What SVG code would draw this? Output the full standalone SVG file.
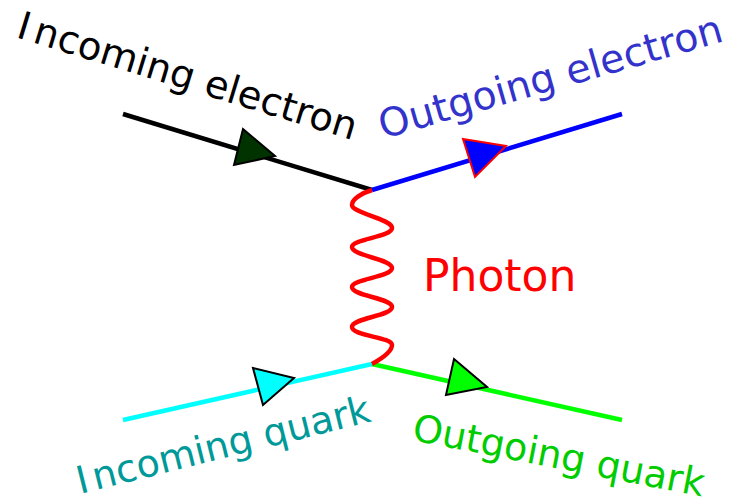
<svg xmlns="http://www.w3.org/2000/svg" width="732" height="498" viewBox="0 0 732 498">
<style>
.lbl{font-family:"DejaVu Sans",Verdana,sans-serif;font-size:38px}
.ln{fill:none;stroke-width:4.5;stroke-linecap:butt}
.tri{stroke-width:2;stroke-linejoin:miter}
</style>
<rect width="732" height="498" fill="#fff"/>
<g id="connectors">
<line class="ln" x1="123" y1="114" x2="372" y2="190" stroke="#000"/>
<line class="ln" x1="372" y1="190" x2="622" y2="114" stroke="#0000ff"/>
<line class="ln" x1="123" y1="420" x2="372" y2="364" stroke="#00ffff"/>
<line class="ln" x1="372" y1="364" x2="622" y2="420" stroke="#00ff00"/>
<path id="photon" class="ln" stroke="#ff0000" stroke-width="4" d="M372,190 C362,193 352,199 352,205 C352,213 392,219 392,228 C392,237 352,239 352,247 C352,256 392,259 392,268 C392,277 352,279 352,287 C352,296 392,298 392,307 C392,316 352,318 352,327 C352,336 392,337 392,345 C392,352 381,359 372,364"/>
</g>
<g id="arrow-incoming-electron"><polygon class="tri" points="243,129 275,156 234,165" fill="#003300" stroke="#000"/></g>
<g id="arrow-outgoing-electron"><polygon class="tri" points="463,139 506,146 475,177" fill="#0000ff" stroke="#ff0000"/></g>
<g id="arrow-incoming-quark"><polygon class="tri" points="253,368 294,378 263,405" fill="#00ffff" stroke="#000"/></g>
<g id="arrow-outgoing-quark"><polygon class="tri" points="454,359 487,387 446,395" fill="#00ff00" stroke="#000"/></g>
<g id="label-incoming-electron"><text class="lbl" transform="translate(15,37) rotate(17)" fill="#000" style="font-size:38.5px">I<tspan dx="6">ncoming electron</tspan></text></g>
<g id="label-outgoing-electron"><text class="lbl" transform="translate(383,139) rotate(-16)" fill="#3333cc" style="font-size:39.5px">Outgoing electron</text></g>
<g id="label-photon"><text class="lbl" x="423" y="291" fill="#ff0000" style="font-size:44px">Photon</text></g>
<g id="label-incoming-quark"><text class="lbl" transform="translate(80,494) rotate(-14)" fill="#009999">I<tspan dx="5">ncoming quark</tspan></text></g>
<g id="label-outgoing-quark"><text class="lbl" transform="translate(411,440) rotate(11)" fill="#00cc00">Outgoing quark</text></g>
</svg>
